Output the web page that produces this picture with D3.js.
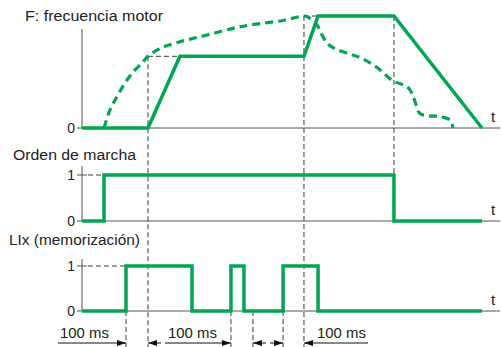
<!DOCTYPE html>
<html><head><meta charset="utf-8">
<script src="https://cdn.jsdelivr.net/npm/d3@7"></script>
<style>
html,body{margin:0;padding:0;background:#fff;}
svg{display:block;font-family:"Liberation Sans",Arial,sans-serif;}
</style></head>
<body><svg id="c" width="501" height="347"></svg>
<script>
// ---- data (time in ms) ----
const freqCommand = [[0,0],[300,0],[445,64],[1009,64],[1073,100],[1418,100],[1818,0]];
const freqMotor = [[100,0],[127,16],[159,28],[195,40],[232,50],[273,58],[300,64],[355,71],[445,77],[568,83],[686,89],[764,92],[914,96],[1009,100],[1027,99],[1068,92],[1091,83],[1118,75],[1159,70],[1218,66],[1273,62],[1341,54],[1414,42],[1477,37],[1500,31],[1518,21],[1536,13],[1573,11],[1627,10],[1673,7],[1686,0]];
const ordenTimes = [0,100,1418,1818];
const ordenValues = [0,1,0,0];
const lixTimes = [0,200,500,677,736,914,1073,1818];
const lixValues = [0,1,0,1,0,1,0,0];
const intervals = [[200,300],[677,777],[914,1009]];
const intervalLabel = "100 ms";
const titles = ["F: frecuencia motor","Orden de marcha","LIx (memorización)"];
const tickLabels = ["0","1"];

const svg = d3.select("#c");
const green = "#00a651", gray = "#555", dashGray = "#3a3a3a";
const x = d3.scaleLinear().domain([0,1900]).range([82,500]);
const yF = d3.scaleLinear().domain([0,100]).range([128,16]);
const yO = d3.scaleLinear().domain([0,1]).range([221,175]);
const yL = d3.scaleLinear().domain([0,1]).range([311,266]);

// titles
const titleSpec = [[25,21,138],[13,160,123],[9,245,131]];
titles.forEach((t,i)=>{
  svg.append("text").attr("x",titleSpec[i][0]).attr("y",titleSpec[i][1])
    .attr("font-size",14).attr("fill","#222")
    .attr("textLength",titleSpec[i][2]).attr("lengthAdjust","spacingAndGlyphs").text(t);
});

// axes
function baseAxis(y, top){
  svg.append("line").attr("x1",x(0)).attr("x2",x(0)).attr("y1",top).attr("y2",y(0))
     .attr("stroke",gray).attr("stroke-width",1);
  svg.append("line").attr("x1",x(0)).attr("x2",500).attr("y1",y(0)).attr("y2",y(0))
     .attr("stroke",gray).attr("stroke-width",1);
  svg.append("text").attr("x",491).attr("y",y(0)-6).attr("font-size",15).attr("fill","#222").text("t");
}
baseAxis(yF,29); baseAxis(yO,166); baseAxis(yL,259);

function tick(y,v,label,cross){
  svg.append("line").attr("x1",x(0)-5).attr("x2",x(0)+(cross?5:0)).attr("y1",y(v)).attr("y2",y(v))
     .attr("stroke",gray);
  svg.append("text").attr("x",x(0)-7).attr("y",y(v)+5).attr("text-anchor","end")
     .attr("font-size",14).attr("fill","#222").text(label);
}
tick(yF,0,tickLabels[0],false);
tick(yO,0,tickLabels[0],false); tick(yO,1,tickLabels[1],true);
tick(yL,0,tickLabels[0],false); tick(yL,1,tickLabels[1],true);

// thin dashed guides
function dl(x1,y1,x2,y2){
  svg.append("line").attr("x1",x1).attr("y1",y1).attr("x2",x2).attr("y2",y2)
    .attr("stroke",dashGray).attr("stroke-width",1).attr("stroke-dasharray","5,3");
}
dl(x(0)+6,yO(1),x(100),yO(1));
dl(x(0)+6,yL(1),x(200),yL(1));
dl(x(300),yF(64),x(445),yF(64));
dl(x(1009),yF(100),x(1073),yF(100));
dl(x(300),yF(64),x(300),347);
dl(x(1009),yF(100),x(1009),347);
dl(x(1418),yF(100),x(1418),yO(1));
[200,677,777,914].forEach(t=>dl(x(t),yL(0),x(t),347));

// signals
const lineF = d3.line().x(d=>x(d[0])).y(d=>yF(d[1]));
svg.append("path").attr("d",lineF.curve(d3.curveCatmullRom.alpha(0.5))(freqMotor))
  .attr("fill","none").attr("stroke",green).attr("stroke-width",3.2).attr("stroke-dasharray","8,5");
svg.append("path").attr("d",d3.line().x(d=>x(d[0])).y(d=>yF(d[1]))(freqCommand))
  .attr("fill","none").attr("stroke",green).attr("stroke-width",3.5).attr("stroke-linejoin","miter");

const stepLine = (ys)=>d3.line().x(d=>x(d[0])).y(d=>ys(d[1])).curve(d3.curveStepAfter);
svg.append("path").attr("d",stepLine(yO)(ordenTimes.map((t,i)=>[t,ordenValues[i]])))
  .attr("fill","none").attr("stroke",green).attr("stroke-width",3.5);
svg.append("path").attr("d",stepLine(yL)(lixTimes.map((t,i)=>[t,lixValues[i]])))
  .attr("fill","none").attr("stroke",green).attr("stroke-width",3.5);

// interval arrows
const ay = 343;
function arrowHead(px,dir){ // dir 1 -> pointing right at px, -1 pointing left
  svg.append("path").attr("d",`M${px},${ay} L${px-dir*9},${ay-3} L${px-dir*9},${ay+3} Z`).attr("fill","#111");
}
function hl(x1,x2){ svg.append("line").attr("x1",x1).attr("x2",x2).attr("y1",ay).attr("y2",ay).attr("stroke","#111").attr("stroke-width",1); }
// first
hl(58,x(intervals[0][0])); arrowHead(x(intervals[0][0]),1);
hl(x(intervals[0][1]),x(intervals[0][1])+13); arrowHead(x(intervals[0][1]),-1);
svg.append("text").attr("x",60).attr("y",338).attr("font-size",14).attr("fill","#222")
  .attr("textLength",49).attr("lengthAdjust","spacingAndGlyphs").text(intervalLabel);
// second
hl(165,x(intervals[1][0])); arrowHead(x(intervals[1][0]),1);
hl(x(intervals[1][1]),x(intervals[1][1])+13); arrowHead(x(intervals[1][1]),-1);
svg.append("text").attr("x",168).attr("y",338).attr("font-size",14).attr("fill","#222")
  .attr("textLength",49).attr("lengthAdjust","spacingAndGlyphs").text(intervalLabel);
// third
hl(x(intervals[2][0])-13,x(intervals[2][0])); arrowHead(x(intervals[2][0]),1);
hl(x(intervals[2][1]),368); arrowHead(x(intervals[2][1]),-1);
svg.append("text").attr("x",317).attr("y",338).attr("font-size",14).attr("fill","#222")
  .attr("textLength",49).attr("lengthAdjust","spacingAndGlyphs").text(intervalLabel);
</script></body></html>
